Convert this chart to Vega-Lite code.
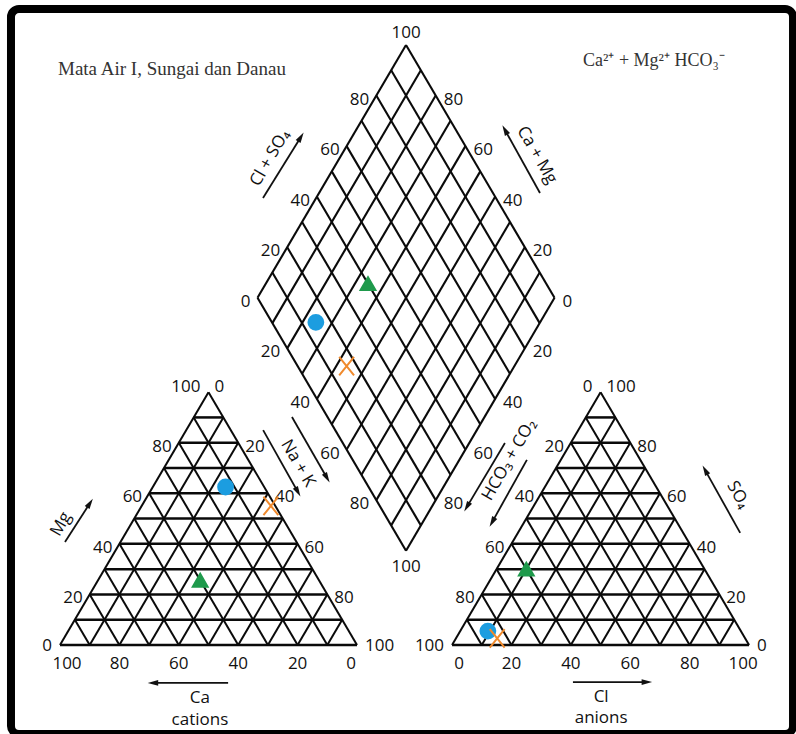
{
"$schema":"https://vega.github.io/schema/vega-lite/v6.json",
"width":796,"height":734,"autosize":{"type":"none"},"padding":0,
"background":"#ffffff",
"view":{"stroke":null,"fill":null},
"config":{"text":{"font":"Open Sans","fontSize":17,"color":"#111111","baseline":"middle"}},
"datasets":{
"samples":[
{"sample":"Mata Air I","Ca":13,"Mg":62.5,"NaK":24.5,"HCO3":85.2,"SO4":5.5,"Cl":9.3},
{"sample":"Sungai","Ca":40,"Mg":25.6,"NaK":34.4,"HCO3":60,"SO4":30,"Cl":10},
{"sample":"Danau","Ca":1.5,"Mg":55,"NaK":43.5,"HCO3":83.5,"SO4":2.6,"Cl":13.9}
],
"tri":[
{"ox":0,"k":0},{"ox":0,"k":10},{"ox":0,"k":20},{"ox":0,"k":30},{"ox":0,"k":40},{"ox":0,"k":50},{"ox":0,"k":60},{"ox":0,"k":70},{"ox":0,"k":80},{"ox":0,"k":90},
{"ox":132,"k":0},{"ox":132,"k":10},{"ox":132,"k":20},{"ox":132,"k":30},{"ox":132,"k":40},{"ox":132,"k":50},{"ox":132,"k":60},{"ox":132,"k":70},{"ox":132,"k":80},{"ox":132,"k":90}
],
"lev":[{"k":0},{"k":10},{"k":20},{"k":30},{"k":40},{"k":50},{"k":60},{"k":70},{"k":80},{"k":90},{"k":100}],
"tticks":[
{"tri":"cat","edge":"L","v":0},{"tri":"cat","edge":"L","v":20},{"tri":"cat","edge":"L","v":40},{"tri":"cat","edge":"L","v":60},{"tri":"cat","edge":"L","v":80},{"tri":"cat","edge":"L","v":100},
{"tri":"cat","edge":"R","v":100},{"tri":"cat","edge":"R","v":80},{"tri":"cat","edge":"R","v":60},{"tri":"cat","edge":"R","v":40},{"tri":"cat","edge":"R","v":20},{"tri":"cat","edge":"R","v":0},
{"tri":"cat","edge":"B","v":100},{"tri":"cat","edge":"B","v":80},{"tri":"cat","edge":"B","v":60},{"tri":"cat","edge":"B","v":40},{"tri":"cat","edge":"B","v":20},{"tri":"cat","edge":"B","v":0},
{"tri":"an","edge":"L","v":100},{"tri":"an","edge":"L","v":80},{"tri":"an","edge":"L","v":60},{"tri":"an","edge":"L","v":40},{"tri":"an","edge":"L","v":20},{"tri":"an","edge":"L","v":0},
{"tri":"an","edge":"R","v":0},{"tri":"an","edge":"R","v":20},{"tri":"an","edge":"R","v":40},{"tri":"an","edge":"R","v":60},{"tri":"an","edge":"R","v":80},{"tri":"an","edge":"R","v":100},
{"tri":"an","edge":"B","v":0},{"tri":"an","edge":"B","v":20},{"tri":"an","edge":"B","v":40},{"tri":"an","edge":"B","v":60},{"tri":"an","edge":"B","v":80},{"tri":"an","edge":"B","v":100}
],
"dticks":[
{"edge":"UL","v":0},{"edge":"UL","v":20},{"edge":"UL","v":40},{"edge":"UL","v":60},{"edge":"UL","v":80},
{"edge":"LL","v":20},{"edge":"LL","v":40},{"edge":"LL","v":60},{"edge":"LL","v":80},
{"edge":"UR","v":80},{"edge":"UR","v":60},{"edge":"UR","v":40},{"edge":"UR","v":20},{"edge":"UR","v":0},
{"edge":"LR","v":20},{"edge":"LR","v":40},{"edge":"LR","v":60},{"edge":"LR","v":80},
{"edge":"T","v":100},{"edge":"Bt","v":100}
],
"labels":[
{"t":"Ca","dir":"h","x":47.1,"y":-18.15},
{"t":"cations","dir":"h","x":47.1,"y":-25.7},
{"t":"Cl","dir":"h","x":182.2,"y":-17.8},
{"t":"anions","dir":"h","x":182.2,"y":-25.0},
{"t":"Cl + SO₄","dir":"up","x":70.7,"y":166.8},
{"t":"HCO₃ + CO₂","dir":"up","x":151.2,"y":63.4},
{"t":"Mg","dir":"up","x":0.34,"y":41.4},
{"t":"Ca + Mg","dir":"down","x":160.6,"y":167.8},
{"t":"Na + K","dir":"down","x":80.1,"y":62.2},
{"t":"SO₄","dir":"down","x":228.3,"y":51.4}
],
"arrows":[
{"x":68.35,"y":153.1,"x2":81.1,"y2":174.0},
{"x":161.6,"y":154.8,"x2":149.8,"y2":176.4},
{"x":78.1,"y":78.1,"x2":89.9,"y2":57.2},
{"x":68.4,"y":73.6,"x2":80.1,"y2":52.4},
{"x":149.8,"y":69.2,"x2":137.0,"y2":47.3},
{"x":157.2,"y":63.4,"x2":145.5,"y2":42.1},
{"x":1.68,"y":35.3,"x2":10.1,"y2":48.6},
{"x":56.6,"y":-13.0,"x2":31.3,"y2":-13.0},
{"x":229.0,"y":38.4,"x2":217.2,"y2":59.9},
{"x":172.7,"y":-12.7,"x2":197.6,"y2":-12.7}
],
"titles":[
{"t":"Mata Air I, Sungai dan Danau","role":"main","x":-0.67,"y":195.2},
{"t":"Ca²⁺ + Mg²⁺ HCO₃⁻","role":"formula","x":176.1,"y":198.3}
],
"frame":[{"x":-16.5,"y":217.8,"x2":246.8,"y2":-30.48}]
},
"encoding":{
"x":{"field":"x","type":"quantitative","scale":{"domain":[-20.2,247.8],"nice":false,"zero":false},"axis":null},
"y":{"field":"y","type":"quantitative","scale":{"domain":[-30.48,220.9],"nice":false,"zero":false},"axis":null}
},
"layer":[
{"data":{"name":"frame"},"mark":{"type":"rect","filled":false,"stroke":"#000000","strokeWidth":8,"cornerRadius":8},"encoding":{"x2":{"field":"x2"},"y2":{"field":"y2"}}},
{"data":{"name":"tri"},"transform":[{"calculate":"datum.ox + datum.k/2","as":"x"},{"calculate":"0.866*datum.k","as":"y"},{"calculate":"datum.ox + 100 - datum.k/2","as":"x2"},{"calculate":"0.866*datum.k","as":"y2"}],
 "mark":{"type":"rule","color":"#0a0a0a","strokeWidth":2.5},"encoding":{"x2":{"field":"x2"},"y2":{"field":"y2"}}},
{"data":{"name":"tri"},"transform":[{"calculate":"datum.ox + datum.k","as":"x"},{"calculate":"0","as":"y"},{"calculate":"datum.ox + 50 + datum.k/2","as":"x2"},{"calculate":"0.866*(100-datum.k)","as":"y2"}],
 "mark":{"type":"rule","color":"#0a0a0a","strokeWidth":2},"encoding":{"x2":{"field":"x2"},"y2":{"field":"y2"}}},
{"data":{"name":"tri"},"transform":[{"calculate":"datum.ox + 100 - datum.k","as":"x"},{"calculate":"0","as":"y"},{"calculate":"datum.ox + (100-datum.k)/2","as":"x2"},{"calculate":"0.866*(100-datum.k)","as":"y2"}],
 "mark":{"type":"rule","color":"#0a0a0a","strokeWidth":2},"encoding":{"x2":{"field":"x2"},"y2":{"field":"y2"}}},
{"data":{"name":"lev"},"transform":[{"calculate":"66.5 + 0.5*datum.k","as":"x"},{"calculate":"118.9 + 0.866*datum.k","as":"y"},{"calculate":"116.5 + 0.5*datum.k","as":"x2"},{"calculate":"32.3 + 0.866*datum.k","as":"y2"}],
 "mark":{"type":"rule","color":"#0a0a0a","strokeWidth":2.1},"encoding":{"x2":{"field":"x2"},"y2":{"field":"y2"}}},
{"data":{"name":"lev"},"transform":[{"calculate":"66.5 + 0.5*datum.k","as":"x"},{"calculate":"118.9 - 0.866*datum.k","as":"y"},{"calculate":"116.5 + 0.5*datum.k","as":"x2"},{"calculate":"205.5 - 0.866*datum.k","as":"y2"}],
 "mark":{"type":"rule","color":"#0a0a0a","strokeWidth":2.1},"encoding":{"x2":{"field":"x2"},"y2":{"field":"y2"}}},
{"data":{"name":"tticks"},
 "transform":[
  {"calculate":"datum.tri=='cat' ? 0 : 132","as":"ox"},
  {"calculate":"datum.edge=='L' ? (datum.tri=='cat' ? datum.v : 100-datum.v) : datum.edge=='R' ? (datum.tri=='cat' ? 100-datum.v : datum.v) : (datum.tri=='cat' ? 100-datum.v : datum.v)","as":"p"},
  {"calculate":"datum.edge=='L' ? datum.ox + datum.p/2 : datum.edge=='R' ? datum.ox + 100 - datum.p/2 : datum.ox + datum.p","as":"x"},
  {"calculate":"datum.edge=='B' ? 0 : 0.866*datum.p","as":"y"}
 ],
 "layer":[
  {"transform":[{"filter":"datum.edge=='L' && datum.p>0 && datum.p<100"}],"mark":{"type":"text","align":"right","dx":-7,"dy":4},"encoding":{"text":{"field":"v","type":"nominal"}}},
  {"transform":[{"filter":"datum.edge=='R' && datum.p>0 && datum.p<100"}],"mark":{"type":"text","align":"left","dx":7,"dy":4},"encoding":{"text":{"field":"v","type":"nominal"}}},
  {"transform":[{"filter":"datum.edge=='L' && datum.p==0"}],"mark":{"type":"text","align":"right","dx":-8,"dy":1},"encoding":{"text":{"field":"v","type":"nominal"}}},
  {"transform":[{"filter":"datum.edge=='R' && datum.p==0"}],"mark":{"type":"text","align":"left","dx":8,"dy":1},"encoding":{"text":{"field":"v","type":"nominal"}}},
  {"transform":[{"filter":"datum.edge=='B' && datum.p>0 && datum.p<100"}],"mark":{"type":"text","align":"center","dy":19},"encoding":{"text":{"field":"v","type":"nominal"}}},
  {"transform":[{"filter":"datum.edge=='B' && datum.p==0"}],"mark":{"type":"text","align":"center","dx":7,"dy":19},"encoding":{"text":{"field":"v","type":"nominal"}}},
  {"transform":[{"filter":"datum.edge=='B' && datum.p==100"}],"mark":{"type":"text","align":"center","dx":-6,"dy":19},"encoding":{"text":{"field":"v","type":"nominal"}}},
  {"transform":[{"filter":"datum.edge=='L' && datum.p==100"}],"mark":{"type":"text","align":"right","dx":-8,"dy":-5},"encoding":{"text":{"field":"v","type":"nominal"}}},
  {"transform":[{"filter":"datum.edge=='R' && datum.p==100"}],"mark":{"type":"text","align":"left","dx":6,"dy":-5},"encoding":{"text":{"field":"v","type":"nominal"}}}
 ]},
{"data":{"name":"dticks"},
 "transform":[
  {"calculate":"datum.edge=='UL' || datum.edge=='LL' ? 66.5 + 0.5*datum.v : datum.edge=='UR' ? 116.5 + 0.5*(100-datum.v) : datum.edge=='LR' ? 166.5 - 0.5*datum.v : 116.5","as":"x"},
  {"calculate":"datum.edge=='UL' ? 118.9 + 0.866*datum.v : datum.edge=='LL' ? 118.9 - 0.866*datum.v : datum.edge=='UR' ? 205.5 - 0.866*(100-datum.v) : datum.edge=='LR' ? 118.9 - 0.866*datum.v : datum.edge=='T' ? 205.5 : 32.3","as":"y"}
 ],
 "layer":[
  {"transform":[{"filter":"datum.edge=='UL' || datum.edge=='LL'"}],"mark":{"type":"text","align":"right","dx":-7,"dy":4},"encoding":{"text":{"field":"v","type":"nominal"}}},
  {"transform":[{"filter":"datum.edge=='UR' || datum.edge=='LR'"}],"mark":{"type":"text","align":"left","dx":8,"dy":4},"encoding":{"text":{"field":"v","type":"nominal"}}},
  {"transform":[{"filter":"datum.edge=='T'"}],"mark":{"type":"text","align":"center","dy":-12},"encoding":{"text":{"field":"v","type":"nominal"}}},
  {"transform":[{"filter":"datum.edge=='Bt'"}],"mark":{"type":"text","align":"center","dy":16},"encoding":{"text":{"field":"v","type":"nominal"}}}
 ]},
{"data":{"name":"labels"},
 "layer":[
  {"transform":[{"filter":"datum.dir=='h'"}],"mark":{"type":"text","align":"center"},"encoding":{"text":{"field":"t","type":"nominal"}}},
  {"transform":[{"filter":"datum.dir=='up'"}],"mark":{"type":"text","align":"center","angle":300},"encoding":{"text":{"field":"t","type":"nominal"}}},
  {"transform":[{"filter":"datum.dir=='down'"}],"mark":{"type":"text","align":"center","angle":60},"encoding":{"text":{"field":"t","type":"nominal"}}}
 ]},
{"data":{"name":"arrows"},"mark":{"type":"rule","color":"#111111","strokeWidth":1.8},"encoding":{"x2":{"field":"x2"},"y2":{"field":"y2"}}},
{"data":{"name":"arrows"},
 "transform":[
  {"calculate":"atan2((datum.x2-datum.x)*2.97, (datum.y2-datum.y)*2.92)*180/PI","as":"ang"},
  {"calculate":"datum.x2","as":"x"},
  {"calculate":"datum.y2","as":"y"}
 ],
 "mark":{"type":"point","shape":"M0,-1L0.55,1L-0.55,1Z","filled":true,"color":"#111111","size":110,"opacity":1},
 "encoding":{"angle":{"field":"ang","type":"quantitative","scale":null}}},
{"data":{"name":"titles"},
 "layer":[
  {"transform":[{"filter":"datum.role=='main'"}],"mark":{"type":"text","align":"left","baseline":"alphabetic","font":"Liberation Serif","fontSize":19,"color":"#333333"},"encoding":{"text":{"field":"t","type":"nominal"}}},
  {"transform":[{"filter":"datum.role=='formula'"}],"mark":{"type":"text","align":"left","baseline":"alphabetic","font":"Liberation Serif","fontSize":18,"color":"#333333"},"encoding":{"text":{"field":"t","type":"nominal"}}}
 ]},
{"data":{"name":"samples"},
 "encoding":{
  "shape":{"field":"sample","type":"nominal","scale":{"domain":["Mata Air I","Sungai","Danau"],"range":["circle","triangle-up","M-1,-1.25L1,1.25M1,-1.25L-1,1.25"]},"legend":null},
  "fill":{"field":"sample","type":"nominal","scale":{"domain":["Mata Air I","Sungai","Danau"],"range":["#1c9de0","#1f9a4c","#f08a2d"]},"legend":null},
  "stroke":{"field":"sample","type":"nominal","scale":{"domain":["Mata Air I","Sungai","Danau"],"range":["#1c9de0","#1f9a4c","#f08a2d"]},"legend":null}
 },
 "layer":[
  {"transform":[{"calculate":"datum.NaK + datum.Mg/2","as":"x"},{"calculate":"0.866*datum.Mg","as":"y"}],"mark":{"type":"point","size":220,"strokeWidth":2,"opacity":1}},
  {"transform":[{"calculate":"132 + datum.Cl + datum.SO4/2","as":"x"},{"calculate":"0.866*datum.SO4","as":"y"}],"mark":{"type":"point","size":220,"strokeWidth":2,"opacity":1}},
  {"transform":[{"calculate":"66.5 + 0.5*(datum.SO4 + datum.Cl + datum.NaK)","as":"x"},{"calculate":"118.9 + 0.866*(datum.SO4 + datum.Cl - datum.NaK)","as":"y"}],"mark":{"type":"point","size":220,"strokeWidth":2,"opacity":1}}
 ]}
]
}
